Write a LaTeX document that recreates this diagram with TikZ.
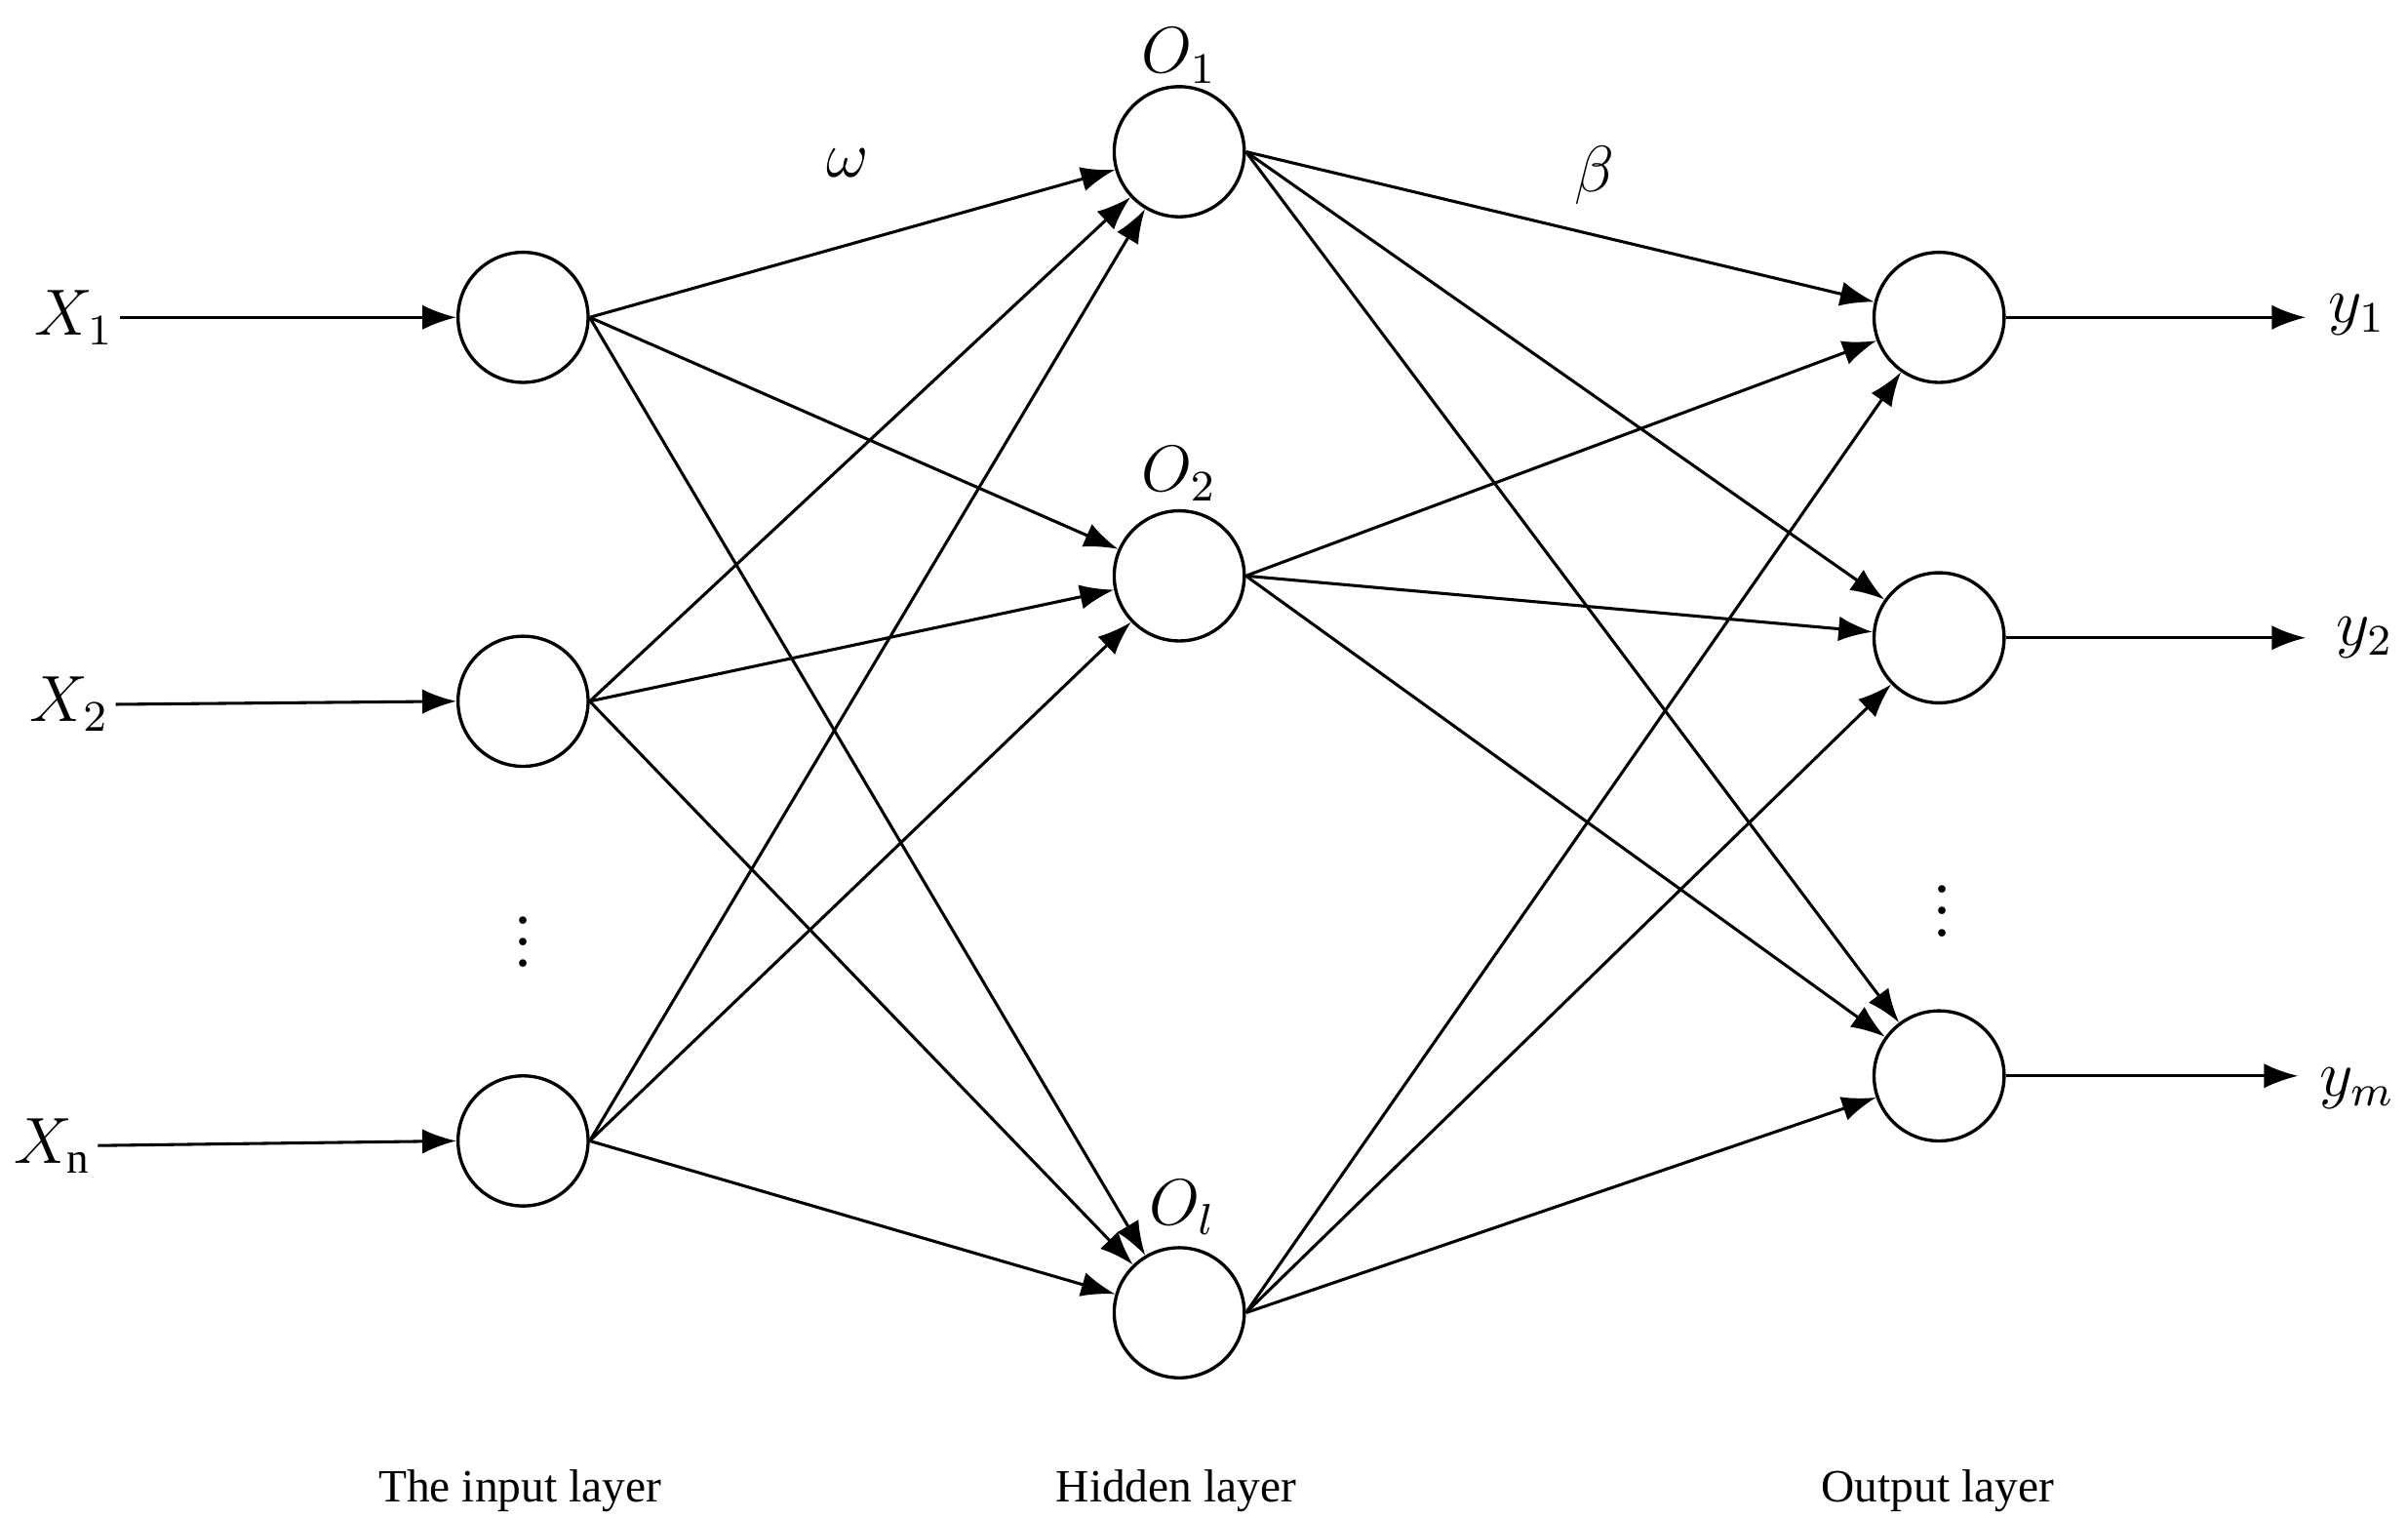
\documentclass[tikz,border=0pt]{standalone}
\usepackage{fontspec}
\setmainfont{Liberation Serif}
\usetikzlibrary{arrows.meta}
\begin{document}
\begin{tikzpicture}[x=0.01cm,y=-0.01cm,
  neuron/.style={circle,draw,line width=0.6pt,minimum size=0.84cm,inner sep=0pt},
  conn/.style={line width=0.55pt,-{Latex[length=2.2mm,width=1.6mm]}},
  lab/.style={font=\fontsize{11.5}{13}\selectfont,inner sep=1pt},
  layer/.style={font=\fontsize{8.5}{10}\selectfont}]
\useasboundingbox (0,0) rectangle (1556,981);
\node[neuron] (i1) at (338,205) {};
\node[neuron] (i2) at (338,453) {};
\node[neuron] (i3) at (338,737) {};
\node[neuron] (h1) at (762,98) {};
\node[neuron] (h2) at (762,372) {};
\node[neuron] (h3) at (762,848) {};
\node[neuron] (o1) at (1253,205) {};
\node[neuron] (o2) at (1253,412) {};
\node[neuron] (o3) at (1253,695) {};
\node[lab] (x1) at (48,205) {$X_1$};
\node[lab] (x2) at (45,455) {$X_2$};
\node[lab] (xn) at (34,740) {$X_{\mathrm{n}}$};
\node[lab] (y1) at (1523,203) {$y_1$};
\node[lab] (y2) at (1528,412) {$y_2$};
\node[lab] (ym) at (1523,703) {$y_m$};
\coordinate (y1e) at (1490,205);
\coordinate (y2e) at (1490,412);
\coordinate (yme) at (1485,695);
\node[lab] (lo1) at (762,36) {$O_1$};
\node[lab] (lo2) at (762,306) {$O_2$};
\node[lab] (lo3) at (764,780) {$O_l$};
\node[lab] (w) at (548,105) {$\omega$};
\node[lab] (b) at (1030,113) {$\beta$};
\node[lab] (d1) at (338,598) {$\vdots$};
\node[lab] (d2) at (1255,578) {$\vdots$};
\node[layer] (l1) at (336,963) {The input layer};
\node[layer] (l2) at (760,963) {Hidden layer};
\node[layer] (l3) at (1252,963) {Output layer};
\draw[conn] (x1.east) -- (i1.west);
\draw[conn] (x2.east) -- (i2.west);
\draw[conn] (xn.east) -- (i3.west);
\foreach \i in {i1,i2,i3}{\foreach \h in {h1,h2,h3}{\draw[conn] (\i.east) -- (\h);}}
\foreach \h in {h1,h2,h3}{\foreach \o in {o1,o2,o3}{\draw[conn] (\h.east) -- (\o);}}
\draw[conn] (o1.east) -- (y1e);
\draw[conn] (o2.east) -- (y2e);
\draw[conn] (o3.east) -- (yme);
\end{tikzpicture}
\end{document}
